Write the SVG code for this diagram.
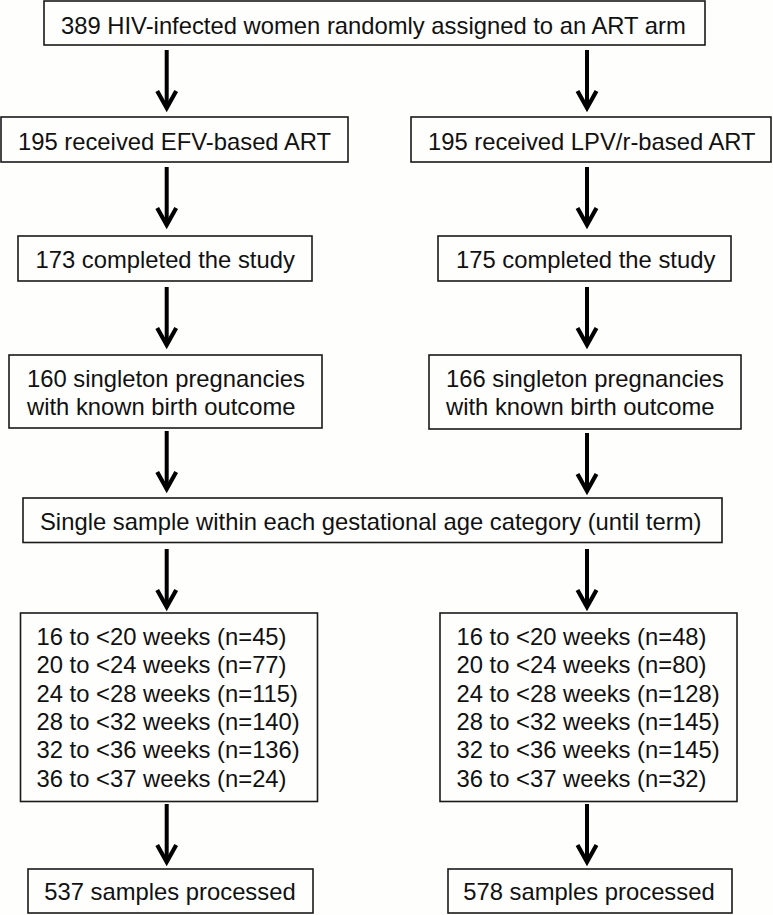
<svg xmlns="http://www.w3.org/2000/svg" width="773" height="915" viewBox="0 0 773 915">
<style>
.box{fill:none;stroke:#1a1a1a;stroke-width:1.6}
text{font-family:"Liberation Sans",Arial,sans-serif;font-size:23.8px;fill:#111}
.shaft{stroke:#000;stroke-width:4;fill:none}
.head{stroke:#000;stroke-width:4.2;fill:none;stroke-linejoin:miter;stroke-miterlimit:10}
</style>
<defs>
<g id="arr">
<line class="shaft" x1="0" y1="0" x2="0" y2="58"/>
<polyline class="head" points="-9.5,41 0,58 9.5,41"/>
</g>
</defs>
<rect width="773" height="915" fill="#fefefd"/>
<g id="n-top"><rect class="box" x="44" y="1" width="661" height="44"/><text x="61" y="33.5">389 HIV-infected women randomly assigned to an ART arm</text></g>
<g id="n-efv"><rect class="box" x="1" y="117" width="347" height="45"/><text x="18" y="150">195 received EFV-based ART</text></g>
<g id="n-lpv"><rect class="box" x="411" y="117" width="360" height="45"/><text x="428" y="150">195 received LPV/r-based ART</text></g>
<g id="n-c173"><rect class="box" x="18" y="236" width="294" height="45"/><text x="35.5" y="268">173 completed the study</text></g>
<g id="n-c175"><rect class="box" x="438" y="236" width="293" height="45"/><text x="456" y="268">175 completed the study</text></g>
<g id="n-p160"><rect class="box" x="9" y="355" width="313" height="73"/><text x="27" y="386.5">160 singleton pregnancies</text><text x="27" y="415">with known birth outcome</text></g>
<g id="n-p166"><rect class="box" x="429" y="355" width="312" height="74"/><text x="446" y="386.5">166 singleton pregnancies</text><text x="446" y="415">with known birth outcome</text></g>
<g id="n-single"><rect class="box" x="23" y="498" width="699" height="44.5"/><text x="40" y="530">Single sample within each gestational age category (until term)</text></g>
<g id="n-wl"><rect class="box" x="20.5" y="613" width="297" height="188.5"/>
<text x="36.5" y="645">16 to &lt;20 weeks (n=45)</text>
<text x="36.5" y="673.3">20 to &lt;24 weeks (n=77)</text>
<text x="36.5" y="701.7">24 to &lt;28 weeks (n=115)</text>
<text x="36.5" y="730">28 to &lt;32 weeks (n=140)</text>
<text x="36.5" y="757.7">32 to &lt;36 weeks (n=136)</text>
<text x="36.5" y="787.3">36 to &lt;37 weeks (n=24)</text>
</g>
<g id="n-wr"><rect class="box" x="440" y="613" width="297" height="188.5"/>
<text x="456.5" y="645">16 to &lt;20 weeks (n=48)</text>
<text x="456.5" y="673.3">20 to &lt;24 weeks (n=80)</text>
<text x="456.5" y="701.7">24 to &lt;28 weeks (n=128)</text>
<text x="456.5" y="730">28 to &lt;32 weeks (n=145)</text>
<text x="456.5" y="757.7">32 to &lt;36 weeks (n=145)</text>
<text x="456.5" y="787.3">36 to &lt;37 weeks (n=32)</text>
</g>
<g id="n-s537"><rect class="box" x="28" y="869" width="285" height="44"/><text x="44.3" y="900">537 samples processed</text></g>
<g id="n-s578"><rect class="box" x="448" y="869" width="284" height="44"/><text x="463.3" y="900">578 samples processed</text></g>
<g id="connectors">
<use href="#arr" x="166.7" y="50"/>
<use href="#arr" x="587" y="50"/>
<use href="#arr" x="166.7" y="167"/>
<use href="#arr" x="587" y="167"/>
<use href="#arr" x="166.7" y="287"/>
<use href="#arr" x="587" y="287"/>
<use href="#arr" x="166.7" y="431"/>
<use href="#arr" x="587" y="433"/>
<use href="#arr" x="166.7" y="549"/>
<use href="#arr" x="587" y="549"/>
<use href="#arr" x="166.7" y="804"/>
<use href="#arr" x="587" y="804"/>
</g>
</svg>
